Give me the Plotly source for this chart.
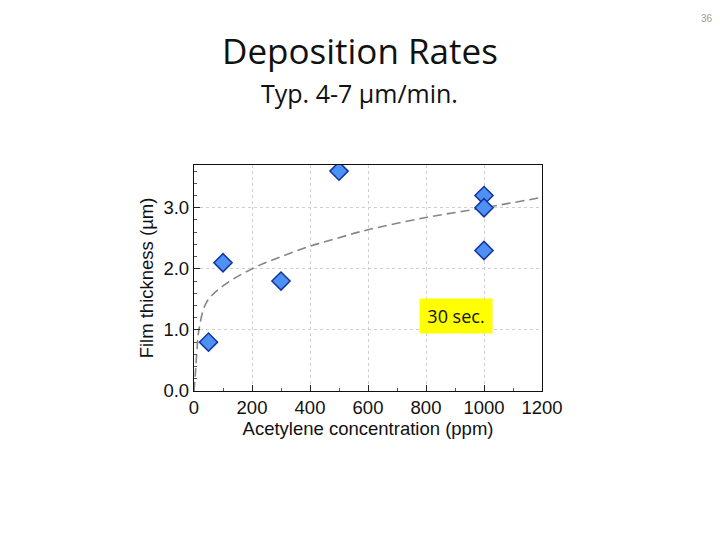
import plotly.graph_objects as go

# measured film thickness vs acetylene concentration
conc_ppm = [50, 100, 300, 500, 1000, 1000, 1000]
thickness_um = [0.8, 2.1, 1.8, 3.6, 3.2, 3.0, 2.3]

# dashed trend curve
trend_x = [0, 5, 10, 17, 43, 100, 200, 300, 400, 500, 600, 800, 1000, 1200]
trend_y = [0.0, 0.3, 0.65, 1.0, 1.45, 1.72, 2.0, 2.2, 2.37, 2.51, 2.64, 2.84, 3.0, 3.17]

x_ticks = [0, 200, 400, 600, 800, 1000, 1200]
y_ticks = [0.0, 1.0, 2.0, 3.0]

# plot box in page pixels (the page adds an 8px body margin)
page_off = 8
plot_l, plot_r, plot_t, plot_b = 194, 542, 165, 391


def px_x(x):
    return (x - plot_l) / (plot_r - plot_l)


def px_y(y):
    return (plot_b - y) / (plot_b - plot_t)


fig = go.Figure()
fig.add_trace(go.Scatter(
    x=trend_x, y=trend_y, mode='lines',
    line=dict(color='#858585', width=1.6, dash='9px,5px', shape='spline'),
    hoverinfo='skip'
))
fig.add_trace(go.Scatter(
    x=conc_ppm, y=thickness_um, mode='markers',
    marker=dict(symbol='diamond', size=14, color='#4d91f4',
                line=dict(color='#14339e', width=1.5))
))

axis_font = dict(family='Liberation Sans, Arial', size=18.5, color='#111111')
fig.update_xaxes(
    range=[0, 1200], tickvals=x_ticks, ticks='inside', ticklen=6,
    tickcolor='#222222', showline=True, linecolor='#111111', linewidth=1.3,
    mirror=True, showgrid=True, gridcolor='#cfcfcf', griddash='dot',
    zeroline=False, tickfont=axis_font,
    minor=dict(dtick=100, ticks='inside', ticklen=3, tickcolor='#555555', showgrid=False),
    title=dict(text='Acetylene concentration (ppm)', font=axis_font, standoff=2)
)
fig.update_yaxes(
    range=[0, 3.7], tickvals=y_ticks, tickformat='.1f', ticks='inside', ticklen=6,
    tickcolor='#222222', showline=True, linecolor='#111111', linewidth=1.3,
    mirror=True, showgrid=True, gridcolor='#cfcfcf', griddash='dot',
    zeroline=False, tickfont=axis_font,
    minor=dict(dtick=0.2, ticks='inside', ticklen=3, tickcolor='#555555', showgrid=False),
    title=dict(text='Film thickness (µm)', font=axis_font, standoff=4)
)

centered = dict(xref='paper', yref='paper', xanchor='center', yanchor='middle', showarrow=False)
fig.add_annotation(
    x=px_x(456), y=px_y(316), text='30 sec.', bgcolor='#ffff00', borderpad=5, width=62,
    font=dict(family='Open Sans, Liberation Sans', size=18, color='#111111'), **centered
)
fig.add_annotation(
    x=px_x(360), y=px_y(50), text='Deposition Rates',
    font=dict(family='Open Sans, Liberation Sans', size=35, color='#111111'), **centered
)
fig.add_annotation(
    x=px_x(359), y=px_y(93), text='Typ. 4-7 µm/min.',
    font=dict(family='Open Sans, Liberation Sans', size=25, color='#111111'), **centered
)
fig.add_annotation(
    x=px_x(707), y=px_y(18), text='36',
    font=dict(family='Liberation Sans', size=10, color='#999999'), **centered
)

fig.update_layout(
    width=720, height=540,
    margin=dict(l=plot_l - page_off, r=720 - plot_r + page_off,
                t=plot_t - page_off, b=540 - plot_b + page_off),
    paper_bgcolor='white', plot_bgcolor='white',
    showlegend=False
)

fig.write_html("out.html")
